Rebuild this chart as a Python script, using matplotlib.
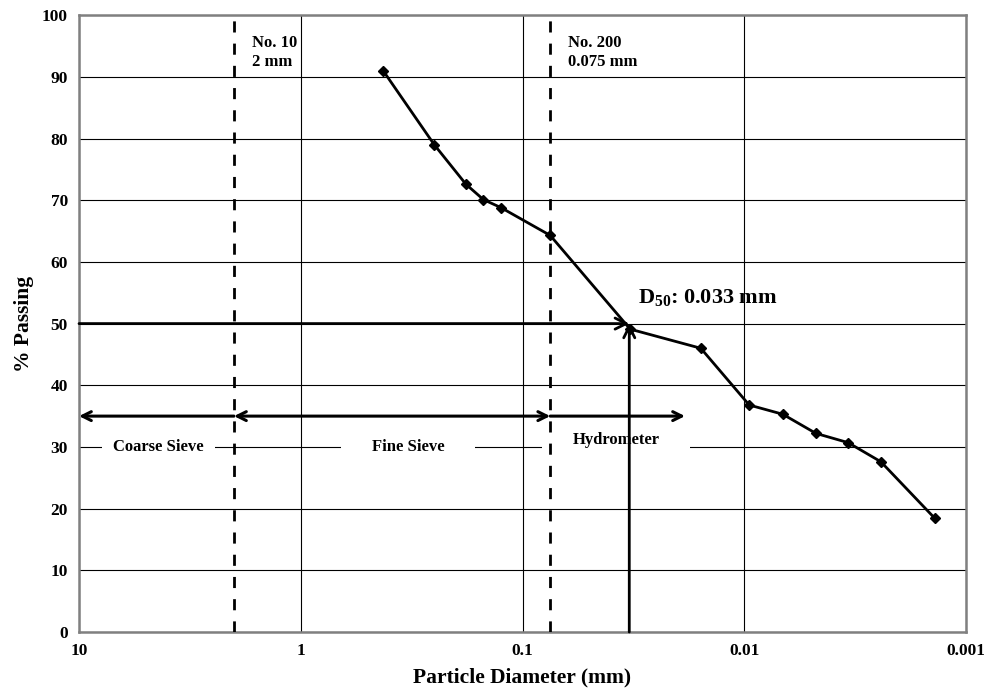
import matplotlib.pyplot as plt
import numpy as np

plt.rcParams['font.family'] = ['Liberation Serif', 'DejaVu Serif']
plt.rcParams['font.weight'] = 'bold'
plt.rcParams['mathtext.fontset'] = 'custom'
plt.rcParams['mathtext.rm'] = 'Liberation Serif:bold'
plt.rcParams['mathtext.it'] = 'Liberation Serif:bold'

# grain size data (mm, % passing)
diameter = [0.425, 0.25, 0.18, 0.15, 0.125, 0.075, 0.0327, 0.0157,
            0.0095, 0.0067, 0.00475, 0.0034, 0.00242, 0.00138]
passing = [91.0, 79.0, 72.6, 70.1, 68.8, 64.3, 49.1, 46.0,
           36.8, 35.3, 32.2, 30.7, 27.6, 18.4]

sieve_sizes = [2.0, 0.075]
sieve_labels = ['No. 10\n2 mm', 'No. 200\n0.075 mm']
d50 = 0.033
xticks = [10, 1, 0.1, 0.01, 0.001]
xtick_labels = ['10', '1', '0.1', '0.01', '0.001']

fig = plt.figure(figsize=(9.84, 6.91), dpi=100)
ax = fig.add_axes([0.0803, 0.0854, 0.9014, 0.8926])

ax.set_xscale('log')
ax.set_xlim(10, 0.001)
ax.set_ylim(0, 100)
ax.set_xticks(xticks)
ax.set_xticklabels(xtick_labels)
ax.set_yticks(np.arange(0, 101, 10))
ax.minorticks_off()
ax.tick_params(axis='both', labelsize=12.5, length=0, pad=8)
ax.grid(True, color='black', linewidth=0.8)
ax.set_axisbelow(True)
for s in ax.spines.values():
    s.set_color('#808080')
    s.set_linewidth(1.8)

ax.set_xlabel('Particle Diameter (mm)', fontsize=15.5, fontweight='bold', labelpad=6)
ax.set_ylabel('% Passing', fontsize=15.5, fontweight='bold', labelpad=6)

# sieve dividing lines
for d, lab in zip(sieve_sizes, sieve_labels):
    ax.axvline(d, color='black', linestyle=(0, (4, 4)), linewidth=2, zorder=3)
    ax.text(d * 0.83, 96.8, lab, fontsize=12, fontweight='bold', va='top', ha='left',
            linespacing=1.25)

# range arrows
arr = dict(arrowstyle='<->', color='black', lw=2.2, mutation_scale=16, shrinkA=0, shrinkB=0)
ax.annotate('', xy=(10, 35), xytext=(2.0, 35), arrowprops=dict(arr, arrowstyle='->'))
ax.annotate('', xy=(2.0, 35), xytext=(0.075, 35), arrowprops=arr)
ax.annotate('', xy=(0.0185, 35), xytext=(0.075, 35), arrowprops=dict(arr, arrowstyle='->'))

ax.text(4.4, 30, 'Coarse Sieve', fontsize=12, fontweight='bold', ha='center', va='center',
        bbox=dict(facecolor='white', edgecolor='none', pad=8), zorder=2)
ax.text(0.328, 30, 'Fine Sieve', fontsize=12, fontweight='bold', ha='center', va='center',
        bbox=dict(facecolor='white', edgecolor='none', pad=22), zorder=2)
ax.text(0.0379, 31.2, 'Hydrometer', fontsize=12, fontweight='bold', ha='center', va='center',
        bbox=dict(facecolor='white', edgecolor='none', pad=22), zorder=2)

# D50 arrows
ax.annotate('', xy=(d50, 50), xytext=(10, 50),
            arrowprops=dict(arrowstyle='->', color='black', lw=2, mutation_scale=20, shrinkA=0, shrinkB=0),
            zorder=4)
ax.annotate('', xy=(d50, 50), xytext=(d50, 0),
            arrowprops=dict(arrowstyle='->', color='black', lw=2, mutation_scale=20, shrinkA=0, shrinkB=0),
            zorder=4)
ax.text(0.0301, 54.2, 'D$_{50}$: 0.033 mm', fontsize=16, fontweight='bold', ha='left', va='center', zorder=5)

ax.plot(diameter, passing, '-D', color='black', linewidth=2, markersize=5.5, zorder=5)

fig.savefig('out.png', dpi=100)
